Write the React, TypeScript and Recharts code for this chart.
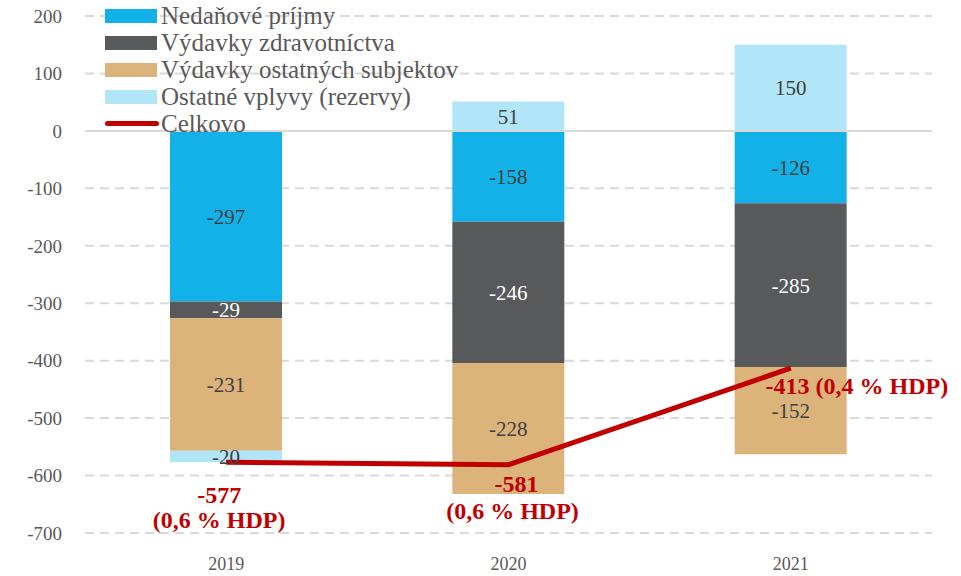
import React from 'react';
import {
  ComposedChart, Bar, Line, XAxis, YAxis, CartesianGrid, ReferenceLine, LabelList, Legend,
} from 'recharts';

const years = ['2019', '2020', '2021'];
const nedanove = [-297, -158, -126];
const zdravotnictvo = [-29, -246, -285];
const ostatneSubjekty = [-231, -228, -152];
const rezervy = [-20, 51, 150];
const celkovo = [-577, -581, -413];
const celkovoHdp = ['(0,6 % HDP)', '(0,6 % HDP)', '(0,4 % HDP)'];
const yTicks = [200, 100, 0, -100, -200, -300, -400, -500, -600, -700];

const FONT = '"Liberation Serif", serif';
const GREY = '#595959';

const series = [
  { key: 'nedanove', name: 'Nedaňové príjmy', color: '#12B2E8', label: '#404040' },
  { key: 'zdrav', name: 'Výdavky zdravotníctva', color: '#58595B', label: '#FFFFFF' },
  { key: 'ostatne', name: 'Výdavky ostatných subjektov', color: '#DBB37B', label: '#404040' },
  { key: 'rezervy', name: 'Ostatné vplyvy (rezervy)', color: '#B0E6F7', label: '#404040' },
];

const data = years.map((y, i) => ({
  year: y,
  nedanove: nedanove[i],
  zdrav: zdravotnictvo[i],
  ostatne: ostatneSubjekty[i],
  rezervy: rezervy[i],
  celkovo: celkovo[i],
}));

function TotalLabel(props: any) {
  const { x, y, index, value } = props;
  const style = { fill: '#C00000', fontFamily: FONT, fontWeight: 700, fontSize: 24 } as const;
  if (index === 2) {
    return (
      <text x={x + 66} y={y + 20} textAnchor="middle" dominantBaseline="middle" {...style}>
        {`${value} ${celkovoHdp[index]}`}
      </text>
    );
  }
  const dx = index === 0 ? -7 : 8;
  return (
    <g>
      <text x={x + dx} y={y + (index === 0 ? 35 : 22)} textAnchor="middle" dominantBaseline="middle" {...style}>
        {value}
      </text>
      <text x={x + dx - (index === 0 ? 0 : 4)} y={y + (index === 0 ? 60 : 49)} textAnchor="middle" dominantBaseline="middle" {...style}>
        {celkovoHdp[index]}
      </text>
    </g>
  );
}

function LegendBox() {
  return (
    <div style={{ fontFamily: FONT, fontSize: 25, color: GREY, lineHeight: '27px' }}>
      {series.map((s) => (
        <div key={s.key} style={{ display: 'flex', alignItems: 'center', height: 27 }}>
          <span style={{ display: 'inline-block', width: 52, height: 14, background: s.color, marginRight: 4 }} />
          {s.name}
        </div>
      ))}
      <div style={{ display: 'flex', alignItems: 'center', height: 27 }}>
        <span style={{ display: 'inline-block', width: 54, height: 5, borderRadius: 3, background: '#C00000', marginRight: 2 }} />
        Celkovo
      </div>
    </div>
  );
}

export default function App() {
  return (
    <div style={{ position: 'absolute', left: 0, top: 0, width: 961, height: 576, background: '#fff' }}>
      <ComposedChart
        width={961}
        height={576}
        data={data}
        stackOffset="sign"
        margin={{ top: 16, right: 29, bottom: 0, left: 0 }}
      >
        <CartesianGrid vertical={false} stroke="#D9D9D9" strokeWidth={2} strokeDasharray="9 6" />
        <XAxis
          dataKey="year"
          axisLine={false}
          tickLine={false}
          tickSize={0}
          tickMargin={24}
          height={43}
          tick={{ fill: GREY, fontFamily: FONT, fontSize: 18 }}
        />
        <YAxis
          type="number"
          domain={[-700, 200]}
          ticks={yTicks}
          interval={0}
          axisLine={false}
          tickLine={false}
          tickSize={0}
          tickMargin={23}
          width={85}
          tick={{ fill: GREY, fontFamily: FONT, fontSize: 19 }}
        />
        <ReferenceLine y={0} stroke="#D9D9D9" strokeWidth={2} />
        <Legend
          layout="vertical"
          align="center"
          verticalAlign="middle"
          wrapperStyle={{ left: 105, top: 2, width: 'auto', height: 'auto' }}
          content={() => <LegendBox />}
        />
        {series.map((s) => (
          <Bar key={s.key} dataKey={s.key} name={s.name} stackId="a" fill={s.color} barSize={112} isAnimationActive={false}>
            <LabelList
              dataKey={s.key}
              position="center"
              fill={s.label}
              style={{ fontFamily: FONT, fontSize: 21 }}
            />
          </Bar>
        ))}
        <Line
          dataKey="celkovo"
          name="Celkovo"
          type="linear"
          stroke="#C00000"
          strokeWidth={5}
          dot={false}
          activeDot={false}
          isAnimationActive={false}
        >
          <LabelList dataKey="celkovo" content={<TotalLabel />} />
        </Line>
      </ComposedChart>
    </div>
  );
}
